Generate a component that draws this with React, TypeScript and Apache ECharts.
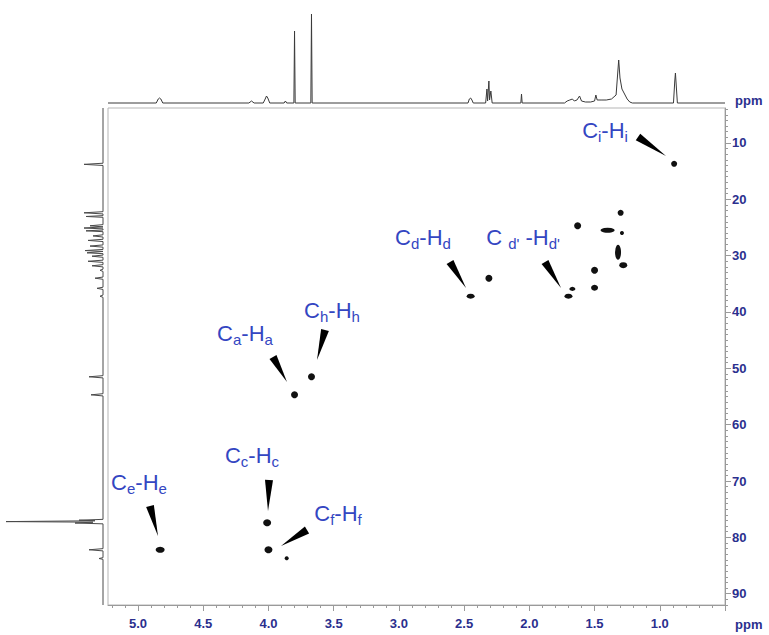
import React, { useEffect, useRef } from 'react';
import * as echarts from 'echarts';

// ---------- data ----------
// 1H axis tick labels (ppm)
const protonTicks = [1.0, 1.5, 2.0, 2.5, 3.0, 3.5, 4.0, 4.5, 5.0];
// 13C axis tick labels (ppm)
const carbonTicks = [10, 20, 30, 40, 50, 60, 70, 80, 90];

// HSQC cross peaks: [1H ppm, 13C ppm]
const hsqcPeaks: [number, number][] = [
  [0.89, 13.7],
  [1.30, 22.4],
  [1.63, 24.7],
  [1.40, 25.5],
  [1.29, 26.0],
  [1.32, 29.4],
  [1.28, 31.7],
  [1.50, 32.6],
  [1.50, 35.7],
  [1.67, 35.9],
  [1.70, 37.2],
  [2.31, 34.0],
  [2.45, 37.2],
  [3.80, 54.7],
  [3.67, 51.5],
  [4.01, 77.4],
  [4.00, 82.2],
  [3.86, 83.7],
  [4.83, 82.2],
];

// 1H projection (top trace): [ppm, intensity]
const protonProjection: [number, number][] = [
  [5.23, 0],
  [4.86, 0], [4.845, 4], [4.835, 5], [4.825, 4], [4.81, 0],
  [4.15, 0], [4.13, 2], [4.11, 0],
  [4.04, 0], [4.025, 4], [4.015, 7], [4.005, 5], [3.99, 0],
  [3.88, 0], [3.87, 2], [3.86, 0],
  [3.805, 0], [3.80, 72], [3.795, 0],
  [3.675, 0], [3.67, 89], [3.665, 0],
  [2.47, 0], [2.46, 4], [2.45, 5], [2.44, 3], [2.43, 0],
  [2.335, 0], [2.325, 14], [2.32, 2], [2.31, 22], [2.305, 3], [2.295, 12], [2.285, 0],
  [2.065, 0], [2.06, 9], [2.055, 0],
  [1.73, 0], [1.71, 2], [1.69, 3], [1.67, 4], [1.655, 2], [1.635, 3], [1.615, 7], [1.60, 2],
  [1.57, 1], [1.53, 1], [1.50, 2], [1.49, 8], [1.48, 3], [1.45, 3], [1.41, 3], [1.37, 4],
  [1.335, 8], [1.315, 43], [1.305, 25], [1.29, 14], [1.27, 9], [1.25, 4], [1.23, 1], [1.21, 0],
  [0.895, 0], [0.885, 22], [0.88, 30], [0.875, 20], [0.865, 0],
  [0.5, 0],
];

// 13C projection (left trace): [ppm, intensity]
const carbonProjection: [number, number][] = [
  [3.8, 0],
  [13.6, 0], [13.8, 19], [14.0, 0],
  [22.2, 0], [22.4, 19], [22.6, 0],
  [22.9, 0], [23.05, 17], [23.2, 0],
  [24.5, 0], [24.7, 13], [24.9, 0],
  [24.95, 0], [25.1, 19], [25.25, 0],
  [25.45, 0], [25.6, 17], [25.75, 0],
  [26.3, 0], [26.5, 10], [26.7, 0],
  [27.1, 0], [27.3, 15], [27.5, 0],
  [28.1, 0], [28.3, 13], [28.5, 0],
  [28.9, 0], [29.1, 18], [29.25, 0],
  [29.35, 0], [29.5, 16], [29.65, 0],
  [29.9, 0], [30.1, 11], [30.3, 0],
  [30.8, 0], [31.0, 15], [31.2, 0],
  [31.6, 0], [31.8, 11], [32.0, 0],
  [32.4, 0], [32.6, 3], [32.8, 0],
  [33.8, 0], [34.0, 8], [34.2, 0],
  [35.6, 0], [35.8, 6], [36.0, 0],
  [37.0, 0], [37.2, 3], [37.4, 0],
  [51.3, 0], [51.5, 14], [51.7, 0],
  [54.5, 0], [54.7, 12], [54.9, 0],
  [76.8, 0], [76.95, 24], [77.05, 8], [77.2, 97], [77.3, 10], [77.45, 28], [77.6, 0],
  [82.0, 0], [82.2, 14], [82.4, 0],
  [83.6, 0], [83.75, 4], [83.9, 0],
  [92, 0],
];

// ---------- styles ----------
const FONT = 'Liberation Sans, Arial, Helvetica, sans-serif';
const TICK_COLOR = '#2b2f8e';
const LABEL_BLUE = '#3446c2';
const AXIS_GRAY = '#9a9a9a';

// marker sizes [w, h] per cross peak (same order as hsqcPeaks)
const peakSizes: [number, number][] = [
  [6, 6], [6, 6], [7, 7], [14, 5], [4, 4], [6, 15], [8, 6], [7, 7], [7, 6], [6, 4],
  [8, 5], [7, 7], [8, 5], [7, 7], [7, 7], [8, 7], [8, 7], [4, 4], [9, 6],
];

// annotation labels: subscript letter and label centre
const annotations: { sub: string; x: number; y: number }[] = [
  { sub: 'i', x: 605, y: 130 },
  { sub: 'd', x: 423, y: 237 },
  { sub: "d'", x: 523, y: 237 },
  { sub: 'a', x: 245, y: 333 },
  { sub: 'h', x: 332, y: 310 },
  { sub: 'c', x: 252, y: 455 },
  { sub: 'e', x: 139, y: 482 },
  { sub: 'f', x: 338, y: 513 },
];

// wedges: base centre (bx, by) to tip (tx, ty)
const wedges: [number, number, number, number][] = [
  [638, 137, 666, 156],
  [450, 262, 466, 288],
  [545, 262, 561, 288],
  [273, 357, 287, 382],
  [325, 330, 317, 360],
  [269, 480, 268, 511],
  [150, 506, 158, 536],
  [307, 530, 281, 546],
];

function wedgePoints(bx: number, by: number, tx: number, ty: number, w: number) {
  const dx = tx - bx;
  const dy = ty - by;
  const len = Math.sqrt(dx * dx + dy * dy);
  const nx = -dy / len;
  const ny = dx / len;
  return [
    [bx + (nx * w) / 2, by + (ny * w) / 2],
    [bx - (nx * w) / 2, by - (ny * w) / 2],
    [tx, ty],
  ];
}

export default function App() {
  const ref = useRef<HTMLDivElement>(null);

  useEffect(() => {
    document.body.style.margin = '0';
    if (!ref.current) return;
    const chart = echarts.init(ref.current, null, { renderer: 'svg' });

    const xMinor: number[] = [];
    for (let i = 6; i <= 52; i++) if (i % 5 !== 0) xMinor.push(i / 10);
    const yMinor: number[] = [];
    for (let i = 4; i <= 92; i++) if (i % 10 !== 0) yMinor.push(i);

    const labelGraphics = annotations.map((a) => {
      const isPrime = a.sub.indexOf("'") >= 0;
      const text = isPrime
        ? `{m|C }{s|${a.sub}}{m| -H}{s|${a.sub}}`
        : `{m|C}{s|${a.sub}}{m|-H}{s|${a.sub}}`;
      return {
        type: 'text',
        x: a.x,
        y: a.y,
        style: {
          text,
          align: 'center',
          verticalAlign: 'middle',
          fill: LABEL_BLUE,
          rich: {
            m: { fontSize: 22, fontFamily: FONT, fill: LABEL_BLUE },
            s: { fontSize: 15, fontFamily: FONT, fill: LABEL_BLUE, padding: [13, 0, 0, 0] },
          },
        },
        z: 100,
      };
    });

    const wedgeGraphics = wedges.map(([bx, by, tx, ty]) => ({
      type: 'polygon',
      shape: { points: wedgePoints(bx, by, tx, ty, 8) },
      style: { fill: '#000' },
      z: 100,
    }));

    const option: any = {
      animation: false,
      backgroundColor: '#fff',
      grid: [
        { left: 108, top: 108, width: 617, height: 497, show: true, borderColor: '#b5b5b5', borderWidth: 1 },
        { left: 108, top: 0, width: 617, height: 103 },
        { left: 0, top: 108, width: 103, height: 497 },
      ],
      xAxis: [
        {
          gridIndex: 0,
          type: 'value',
          inverse: true,
          min: 0.5,
          max: 5.23,
          position: 'bottom',
          axisLine: { show: true, lineStyle: { color: AXIS_GRAY, width: 1 } },
          axisTick: { show: true, customValues: [0.5, ...protonTicks], length: 6, lineStyle: { color: AXIS_GRAY } },
          axisLabel: {
            customValues: protonTicks,
            formatter: (v: number) => v.toFixed(1),
            margin: 12,
            color: TICK_COLOR,
            fontWeight: 'bold',
            fontSize: 13,
            fontFamily: FONT,
          },
          splitLine: { show: false },
        },
        {
          gridIndex: 0,
          type: 'value',
          inverse: true,
          min: 0.5,
          max: 5.23,
          position: 'bottom',
          axisLine: { show: false },
          axisTick: { show: true, customValues: xMinor, length: 3, lineStyle: { color: AXIS_GRAY } },
          axisLabel: { show: false },
          splitLine: { show: false },
        },
        { gridIndex: 1, type: 'value', inverse: true, min: 0.5, max: 5.23, show: false },
        { gridIndex: 2, type: 'value', inverse: true, min: 0, max: 103, show: false },
      ],
      yAxis: [
        {
          gridIndex: 0,
          type: 'value',
          inverse: true,
          min: 3.8,
          max: 92,
          position: 'right',
          axisLine: { show: true, lineStyle: { color: AXIS_GRAY, width: 1 } },
          axisTick: { show: true, customValues: carbonTicks, length: 6, lineStyle: { color: AXIS_GRAY } },
          axisLabel: {
            customValues: carbonTicks,
            margin: 7,
            color: TICK_COLOR,
            fontWeight: 'bold',
            fontSize: 13,
            fontFamily: FONT,
          },
          splitLine: { show: false },
        },
        {
          gridIndex: 0,
          type: 'value',
          inverse: true,
          min: 3.8,
          max: 92,
          position: 'right',
          axisLine: { show: false },
          axisTick: { show: true, customValues: yMinor, length: 3, lineStyle: { color: AXIS_GRAY } },
          axisLabel: { show: false },
          splitLine: { show: false },
        },
        { gridIndex: 1, type: 'value', min: 0, max: 103, show: false },
        { gridIndex: 2, type: 'value', inverse: true, min: 3.8, max: 92, show: false },
      ],
      series: [
        {
          type: 'scatter',
          xAxisIndex: 0,
          yAxisIndex: 0,
          data: hsqcPeaks,
          symbol: 'circle',
          symbolSize: (_v: any, p: any) => peakSizes[p.dataIndex],
          itemStyle: { color: '#111', opacity: 1 },
          z: 5,
        },
        {
          type: 'line',
          xAxisIndex: 2,
          yAxisIndex: 2,
          data: protonProjection,
          symbol: 'none',
          lineStyle: { color: '#3a3a3a', width: 1 },
          clip: false,
        },
        {
          type: 'line',
          xAxisIndex: 3,
          yAxisIndex: 3,
          data: carbonProjection.map(([ppm, v]) => [v, ppm]),
          symbol: 'none',
          lineStyle: { color: '#4a4a4a', width: 1 },
          clip: false,
        },
      ],
      graphic: [
        ...wedgeGraphics,
        ...labelGraphics,
        {
          type: 'text',
          x: 735,
          y: 100,
          style: { text: 'ppm', fill: TICK_COLOR, font: `bold 13px ${FONT}`, align: 'left', verticalAlign: 'middle' },
        },
        {
          type: 'text',
          x: 735,
          y: 624,
          style: { text: 'ppm', fill: TICK_COLOR, font: `bold 13px ${FONT}`, align: 'left', verticalAlign: 'middle' },
        },
      ],
    };

    chart.setOption(option);
    return () => chart.dispose();
  }, []);

  return <div ref={ref} style={{ width: 769, height: 635 }} />;
}
